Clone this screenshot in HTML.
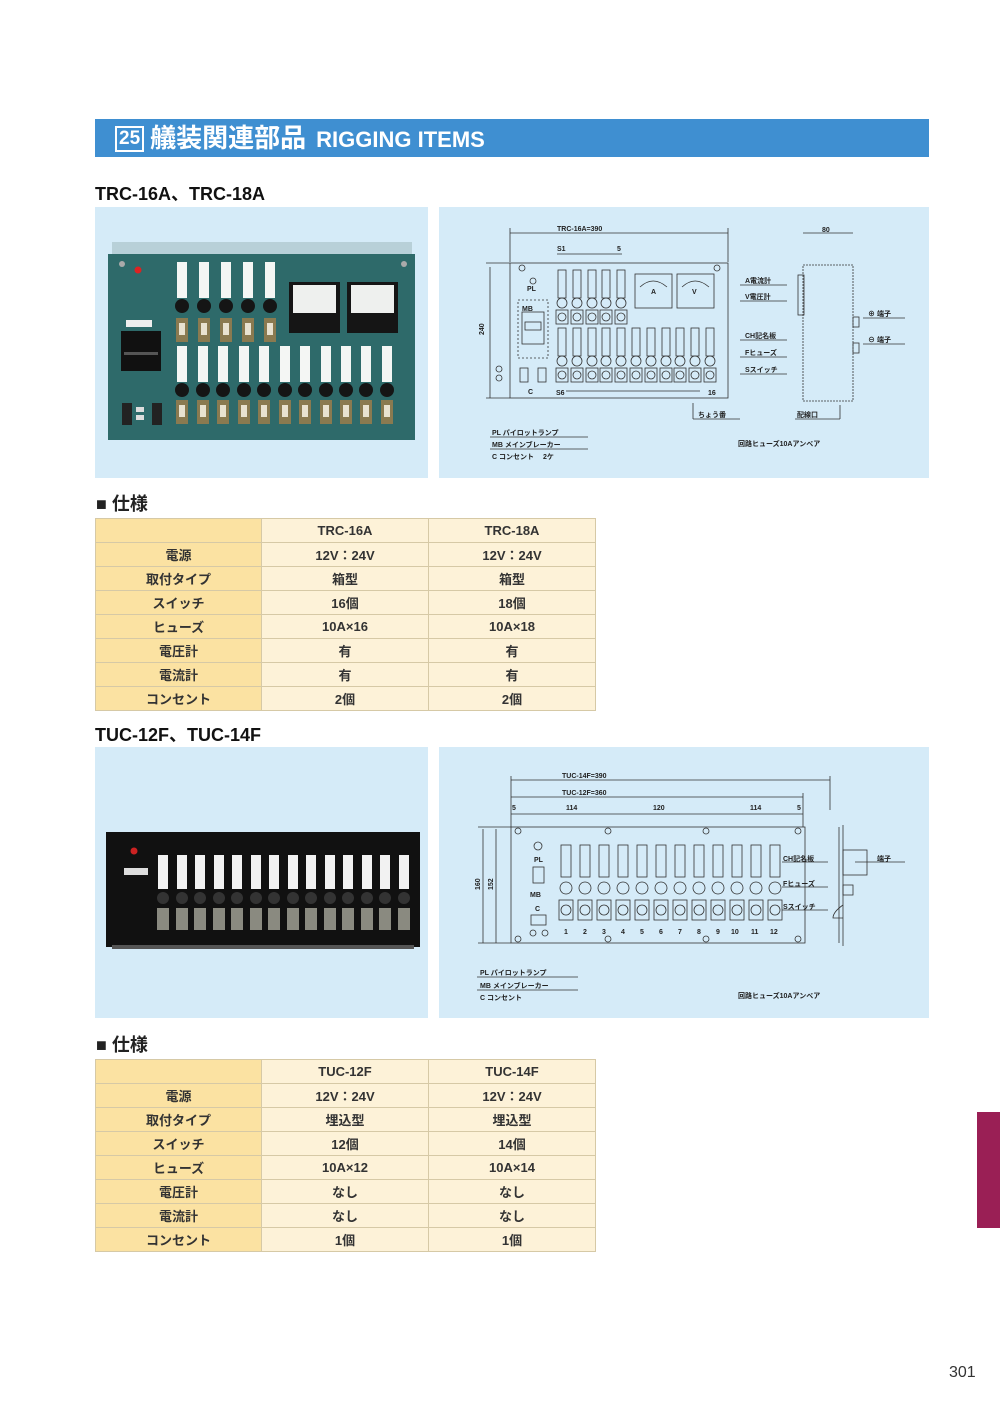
<!DOCTYPE html>
<html><head><meta charset="utf-8">
<style>
*{margin:0;padding:0;box-sizing:border-box}
body{width:1000px;height:1415px;background:#fff;position:relative;overflow:hidden;font-family:"Liberation Sans","Noto Sans CJK JP",sans-serif;color:#222}
.abs{position:absolute}
.hdr{left:95px;top:119px;width:834px;height:38px;background:#3f8fd1;color:#fff;font-weight:bold;font-size:26px;line-height:38px;padding-left:20px}
.hdr .n{display:inline-block;border:2px solid #fff;font-size:19px;line-height:22px;padding:0 2px;vertical-align:3px;margin-right:6px}
.hdr .e{font-size:22px;margin-left:10px}
.ttl{font-size:18px;font-weight:bold;color:#111;left:95px}
.sec{font-size:18px;font-weight:bold;left:96px}
.pan{background:#d5ebf8}
table{position:absolute;left:95px;border-collapse:collapse;font-size:13px;font-weight:bold;table-layout:fixed;width:501px}
td{border:1px solid #d6c9a6;height:24px;text-align:center;background:#fdf2d8;width:167px;color:#333}
td.h{background:#fbe2a2;width:166px}
</style></head><body>
<div class="abs hdr"><span class="n">25</span>艤装関連部品<span class="e">RIGGING ITEMS</span></div>
<div class="abs ttl" style="top:180px">TRC-16A、TRC-18A</div>
<div class="abs pan" style="left:95px;top:207px;width:333px;height:271px"></div>
<div class="abs pan" style="left:439px;top:207px;width:490px;height:271px"></div>
<div class="abs pan" style="left:95px;top:747px;width:333px;height:271px"></div>
<div class="abs pan" style="left:439px;top:747px;width:490px;height:271px"></div>
<svg class="abs" style="left:0;top:0" width="1000" height="1415">
<defs>
<g id="sw"><rect x="-6" y="0" width="12" height="24" fill="#8a7a50"/><rect x="-3" y="5" width="6" height="12" fill="#e8e2d0"/></g>
<g id="tw"><rect x="-5" y="0" width="10" height="36" fill="#f4f6f4"/></g>
<g id="kn"><circle r="7" fill="#151515"/></g>
<g id="ds" fill="none" stroke="#333" stroke-width="0.8"><rect x="-4" y="0" width="8" height="28"/><circle cy="33" r="5"/><rect x="-6" y="40" width="12" height="14"/><circle cy="47" r="4"/></g>
<g id="du" fill="none" stroke="#333" stroke-width="0.8"><rect x="-5" y="0" width="10" height="32"/><circle cy="43" r="6"/><rect x="-7" y="55" width="14" height="20"/><circle cy="65" r="5"/></g>
</defs>
<rect x="112" y="242" width="300" height="14" fill="#b8d0d8"/>
<rect x="108" y="254" width="307" height="186" fill="#2e6a6a"/>
<circle cx="122" cy="264" r="3" fill="#aaa"/><circle cx="404" cy="264" r="3" fill="#aaa"/>
<circle cx="138" cy="270" r="3.5" fill="#d22"/>
<rect x="126" y="320" width="26" height="7" fill="#eee"/>
<rect x="121" y="331" width="40" height="40" fill="#111"/><rect x="124" y="352" width="34" height="3" fill="#555"/>
<rect x="122" y="403" width="10" height="22" fill="#222"/><rect x="136" y="407" width="8" height="5" fill="#ddd"/><rect x="136" y="415" width="8" height="5" fill="#ddd"/><rect x="152" y="403" width="10" height="22" fill="#222"/>
<g><use href="#tw" x="182" y="262"/><use href="#tw" x="204" y="262"/><use href="#tw" x="226" y="262"/><use href="#tw" x="248" y="262"/><use href="#tw" x="270" y="262"/>
<use href="#kn" x="182" y="306"/><use href="#kn" x="204" y="306"/><use href="#kn" x="226" y="306"/><use href="#kn" x="248" y="306"/><use href="#kn" x="270" y="306"/>
<use href="#sw" x="182" y="318"/><use href="#sw" x="204" y="318"/><use href="#sw" x="226" y="318"/><use href="#sw" x="248" y="318"/><use href="#sw" x="270" y="318"/></g>
<g><use href="#tw" x="182" y="346"/><use href="#tw" x="203" y="346"/><use href="#tw" x="223" y="346"/><use href="#tw" x="244" y="346"/><use href="#tw" x="264" y="346"/><use href="#tw" x="285" y="346"/><use href="#tw" x="305" y="346"/><use href="#tw" x="326" y="346"/><use href="#tw" x="346" y="346"/><use href="#tw" x="366" y="346"/><use href="#tw" x="387" y="346"/>
<use href="#kn" x="182" y="390"/><use href="#kn" x="203" y="390"/><use href="#kn" x="223" y="390"/><use href="#kn" x="244" y="390"/><use href="#kn" x="264" y="390"/><use href="#kn" x="285" y="390"/><use href="#kn" x="305" y="390"/><use href="#kn" x="326" y="390"/><use href="#kn" x="346" y="390"/><use href="#kn" x="366" y="390"/><use href="#kn" x="387" y="390"/>
<use href="#sw" x="182" y="400"/><use href="#sw" x="203" y="400"/><use href="#sw" x="223" y="400"/><use href="#sw" x="244" y="400"/><use href="#sw" x="264" y="400"/><use href="#sw" x="285" y="400"/><use href="#sw" x="305" y="400"/><use href="#sw" x="326" y="400"/><use href="#sw" x="346" y="400"/><use href="#sw" x="366" y="400"/><use href="#sw" x="387" y="400"/></g>
<rect x="289" y="282" width="51" height="51" fill="#151515"/><rect x="293" y="285" width="43" height="28" fill="#eef0ee"/>
<rect x="347" y="282" width="51" height="51" fill="#151515"/><rect x="351" y="285" width="43" height="28" fill="#eef0ee"/>
<g fill="none" stroke="#333" stroke-width="0.8">
<line x1="510" y1="233" x2="728" y2="233"/><line x1="510" y1="228" x2="510" y2="262"/><line x1="728" y1="228" x2="728" y2="262"/>
<line x1="557" y1="254" x2="622" y2="254"/>
<rect x="510" y="263" width="218" height="135"/>
<line x1="490" y1="267" x2="490" y2="398"/><line x1="486" y1="263" x2="510" y2="263"/><line x1="486" y1="398" x2="510" y2="398"/>
<circle cx="522" cy="268" r="3"/><circle cx="717" cy="268" r="3"/><circle cx="533" cy="281" r="3"/>
<rect x="518" y="300" width="30" height="58" stroke-dasharray="2 2"/><rect x="522" y="312" width="22" height="32"/><rect x="525" y="322" width="16" height="8"/>
<rect x="520" y="368" width="8" height="14"/><rect x="538" y="368" width="8" height="14"/><circle cx="499" cy="369" r="3"/><circle cx="499" cy="378" r="3"/>
<rect x="635" y="274" width="37" height="34"/><rect x="677" y="274" width="37" height="34"/><path d="M640 287 Q653 275 667 287 M682 287 Q695 275 709 287"/>
<line x1="566" y1="391" x2="700" y2="391"/>
<rect x="803" y="265" width="50" height="136" stroke-dasharray="2 1"/><rect x="798" y="275" width="6" height="40"/><rect x="853" y="317" width="6" height="10"/><rect x="853" y="343" width="6" height="10"/>
<line x1="803" y1="233" x2="853" y2="233"/>
<line x1="740" y1="285" x2="787" y2="285"/><line x1="740" y1="301" x2="787" y2="301"/><line x1="740" y1="340" x2="787" y2="340"/><line x1="740" y1="357" x2="787" y2="357"/><line x1="740" y1="374" x2="787" y2="374"/>
<line x1="863" y1="318" x2="905" y2="318"/><line x1="863" y1="344" x2="905" y2="344"/>
<line x1="693" y1="403" x2="693" y2="419"/><line x1="693" y1="419" x2="740" y2="419"/><line x1="795" y1="419" x2="840" y2="419"/><line x1="840" y1="405" x2="840" y2="419"/>
<line x1="490" y1="437" x2="588" y2="437"/><line x1="490" y1="449" x2="588" y2="449"/>
</g>
<g><use href="#ds" x="562" y="270"/><use href="#ds" x="577" y="270"/><use href="#ds" x="592" y="270"/><use href="#ds" x="606" y="270"/><use href="#ds" x="621" y="270"/></g>
<g transform="translate(0,-2)"><use href="#ds" x="562" y="330"/><use href="#ds" x="577" y="330"/><use href="#ds" x="592" y="330"/><use href="#ds" x="606" y="330"/><use href="#ds" x="621" y="330"/><use href="#ds" x="636" y="330"/><use href="#ds" x="651" y="330"/><use href="#ds" x="666" y="330"/><use href="#ds" x="680" y="330"/><use href="#ds" x="695" y="330"/><use href="#ds" x="710" y="330"/></g>
<g font-size="7" font-weight="bold" fill="#222">
<text x="557" y="231">TRC-16A=390</text><text x="822" y="232">80</text><text x="557" y="251">S1</text><text x="617" y="251">5</text>
<text x="527" y="291">PL</text><text x="522" y="311">MB</text><text x="484" y="335" transform="rotate(-90 484 335)">240</text>
<text x="528" y="394">C</text><text x="556" y="395">S6</text><text x="708" y="395">16</text>
<text x="651" y="294">A</text><text x="692" y="294">V</text>
<text x="745" y="283">A電流計</text><text x="745" y="299">V電圧計</text><text x="745" y="338">CH記名板</text><text x="745" y="355">Fヒューズ</text><text x="745" y="372">Sスイッチ</text>
<text x="868" y="316">⊕ 端子</text><text x="868" y="342">⊖ 端子</text>
<text x="698" y="417">ちょう番</text><text x="797" y="417">配線口</text>
<text x="492" y="435">PL パイロットランプ</text><text x="492" y="447">MB メインブレーカー</text><text x="492" y="459">C コンセント　 2ケ</text>
<text x="738" y="446">回路ヒューズ10Aアンペア</text>
</g>
<rect x="106" y="832" width="314" height="115" fill="#111"/>
<rect x="112" y="945" width="302" height="4" fill="#555"/>
<circle cx="134" cy="851" r="3.5" fill="#c22"/>
<rect x="124" y="868" width="24" height="7" fill="#ddd"/>
<g fill="#f2f2f2"><rect x="158" y="855" width="10" height="34"/><rect x="177" y="855" width="10" height="34"/><rect x="195" y="855" width="10" height="34"/><rect x="214" y="855" width="10" height="34"/><rect x="232" y="855" width="10" height="34"/><rect x="251" y="855" width="10" height="34"/><rect x="269" y="855" width="10" height="34"/><rect x="288" y="855" width="10" height="34"/><rect x="306" y="855" width="10" height="34"/><rect x="325" y="855" width="10" height="34"/><rect x="343" y="855" width="10" height="34"/><rect x="362" y="855" width="10" height="34"/><rect x="380" y="855" width="10" height="34"/><rect x="399" y="855" width="10" height="34"/></g>
<g fill="#333"><circle cx="163" cy="898" r="6"/><circle cx="182" cy="898" r="6"/><circle cx="200" cy="898" r="6"/><circle cx="219" cy="898" r="6"/><circle cx="237" cy="898" r="6"/><circle cx="256" cy="898" r="6"/><circle cx="274" cy="898" r="6"/><circle cx="293" cy="898" r="6"/><circle cx="311" cy="898" r="6"/><circle cx="330" cy="898" r="6"/><circle cx="348" cy="898" r="6"/><circle cx="367" cy="898" r="6"/><circle cx="385" cy="898" r="6"/><circle cx="404" cy="898" r="6"/></g>
<g fill="#8a8a80"><rect x="157" y="908" width="12" height="22"/><rect x="176" y="908" width="12" height="22"/><rect x="194" y="908" width="12" height="22"/><rect x="213" y="908" width="12" height="22"/><rect x="231" y="908" width="12" height="22"/><rect x="250" y="908" width="12" height="22"/><rect x="268" y="908" width="12" height="22"/><rect x="287" y="908" width="12" height="22"/><rect x="305" y="908" width="12" height="22"/><rect x="324" y="908" width="12" height="22"/><rect x="342" y="908" width="12" height="22"/><rect x="361" y="908" width="12" height="22"/><rect x="379" y="908" width="12" height="22"/><rect x="398" y="908" width="12" height="22"/></g>
<g fill="none" stroke="#333" stroke-width="0.8">
<line x1="511" y1="780" x2="830" y2="780"/><line x1="830" y1="776" x2="830" y2="810"/>
<line x1="511" y1="797" x2="803" y2="797"/><line x1="511" y1="776" x2="511" y2="827"/><line x1="803" y1="793" x2="803" y2="827"/>
<line x1="511" y1="814" x2="803" y2="814"/>
<rect x="511" y="827" width="294" height="116"/>
<line x1="483" y1="829" x2="483" y2="943"/><line x1="496" y1="829" x2="496" y2="943"/><line x1="478" y1="827" x2="511" y2="827"/><line x1="478" y1="943" x2="511" y2="943"/>
<circle cx="518" cy="831" r="3"/><circle cx="608" cy="831" r="3"/><circle cx="706" cy="831" r="3"/><circle cx="798" cy="831" r="3"/>
<circle cx="518" cy="939" r="3"/><circle cx="608" cy="939" r="3"/><circle cx="706" cy="939" r="3"/><circle cx="798" cy="939" r="3"/>
<circle cx="538" cy="846" r="4"/><rect x="533" y="867" width="11" height="16"/><rect x="531" y="915" width="15" height="10"/><circle cx="533" cy="933" r="3"/><circle cx="545" cy="933" r="3"/>
<line x1="843" y1="825" x2="843" y2="946"/><line x1="839" y1="827" x2="839" y2="943"/><rect x="843" y="850" width="24" height="25"/><rect x="843" y="885" width="10" height="10"/><path d="M843 905 Q833 912 833 918 L843 918"/>
<line x1="782" y1="862" x2="828" y2="862"/><line x1="782" y1="887" x2="828" y2="887"/><line x1="782" y1="910" x2="828" y2="910"/><line x1="855" y1="862" x2="905" y2="862"/>
<line x1="477" y1="977" x2="578" y2="977"/><line x1="477" y1="990" x2="578" y2="990"/>
</g>
<g><use href="#du" x="566" y="845"/><use href="#du" x="585" y="845"/><use href="#du" x="604" y="845"/><use href="#du" x="623" y="845"/><use href="#du" x="642" y="845"/><use href="#du" x="661" y="845"/><use href="#du" x="680" y="845"/><use href="#du" x="699" y="845"/><use href="#du" x="718" y="845"/><use href="#du" x="737" y="845"/><use href="#du" x="756" y="845"/><use href="#du" x="775" y="845"/></g>
<g font-size="7" font-weight="bold" fill="#222">
<text x="562" y="778">TUC-14F=390</text><text x="562" y="795">TUC-12F=360</text>
<text x="512" y="810">5</text><text x="566" y="810">114</text><text x="653" y="810">120</text><text x="750" y="810">114</text><text x="797" y="810">5</text>
<text x="534" y="862">PL</text><text x="530" y="897">MB</text><text x="535" y="911">C</text>
<text x="480" y="890" transform="rotate(-90 480 890)">160</text><text x="493" y="890" transform="rotate(-90 493 890)">152</text>
<text x="564" y="934">1</text><text x="583" y="934">2</text><text x="602" y="934">3</text><text x="621" y="934">4</text><text x="640" y="934">5</text><text x="659" y="934">6</text><text x="678" y="934">7</text><text x="697" y="934">8</text><text x="716" y="934">9</text><text x="731" y="934">10</text><text x="751" y="934">11</text><text x="770" y="934">12</text>
<text x="783" y="861">CH記名板</text><text x="783" y="886">Fヒューズ</text><text x="783" y="909">Sスイッチ</text><text x="877" y="861">端子</text>
<text x="480" y="975">PL パイロットランプ</text><text x="480" y="988">MB メインブレーカー</text><text x="480" y="1000">C コンセント</text>
<text x="738" y="998">回路ヒューズ10Aアンペア</text>
</g>
</svg>
<div class="abs sec" style="top:490px">■ 仕様</div>
<table style="top:518px">
<tr><td class="h"></td><td>TRC-16A</td><td>TRC-18A</td></tr>
<tr><td class="h">電源</td><td>12V：24V</td><td>12V：24V</td></tr>
<tr><td class="h">取付タイプ</td><td>箱型</td><td>箱型</td></tr>
<tr><td class="h">スイッチ</td><td>16個</td><td>18個</td></tr>
<tr><td class="h">ヒューズ</td><td>10A×16</td><td>10A×18</td></tr>
<tr><td class="h">電圧計</td><td>有</td><td>有</td></tr>
<tr><td class="h">電流計</td><td>有</td><td>有</td></tr>
<tr><td class="h">コンセント</td><td>2個</td><td>2個</td></tr>
</table>
<div class="abs ttl" style="top:721px">TUC-12F、TUC-14F</div>
<div class="abs sec" style="top:1031px">■ 仕様</div>
<table style="top:1059px">
<tr><td class="h"></td><td>TUC-12F</td><td>TUC-14F</td></tr>
<tr><td class="h">電源</td><td>12V：24V</td><td>12V：24V</td></tr>
<tr><td class="h">取付タイプ</td><td>埋込型</td><td>埋込型</td></tr>
<tr><td class="h">スイッチ</td><td>12個</td><td>14個</td></tr>
<tr><td class="h">ヒューズ</td><td>10A×12</td><td>10A×14</td></tr>
<tr><td class="h">電圧計</td><td>なし</td><td>なし</td></tr>
<tr><td class="h">電流計</td><td>なし</td><td>なし</td></tr>
<tr><td class="h">コンセント</td><td>1個</td><td>1個</td></tr>
</table>
<div class="abs" style="left:977px;top:1112px;width:23px;height:116px;background:#9a1f55"></div>
<div class="abs" style="left:949px;top:1364px;font-size:16px;color:#333">301</div>
</body></html>
